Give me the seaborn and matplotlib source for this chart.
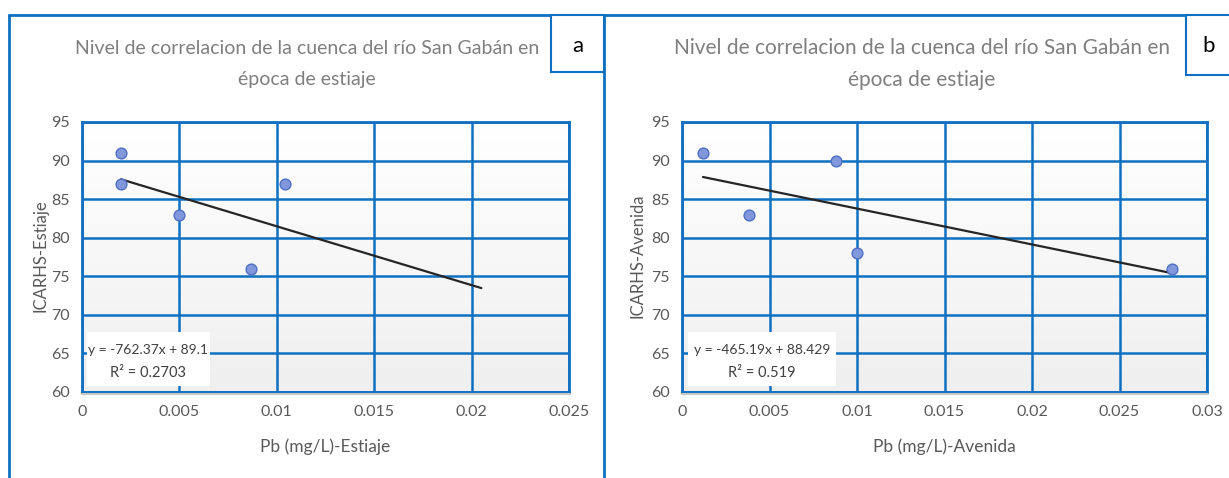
import matplotlib
matplotlib.use("Agg")
import matplotlib.pyplot as plt
import seaborn as sns
import numpy as np
import pandas as pd
from matplotlib.lines import Line2D
from matplotlib.patches import Rectangle

# values
pb_estiaje = [0.002, 0.002, 0.005, 0.0087, 0.0104]
icarhs_estiaje = [91, 87, 83, 76, 87]
pb_avenida = [0.0012, 0.0038, 0.0088, 0.010, 0.028]
icarhs_avenida = [91, 83, 90, 78, 76]

# trend lines as printed in the charts
trend_a = (-762.37, 89.1, 0.2703, 0.0205)   # slope, intercept, r2, forecast end
trend_b = (-465.19, 88.429, 0.519, 0.028)

y_ticks = [60, 65, 70, 75, 80, 85, 90, 95]
x_ticks_a = [0, 0.005, 0.01, 0.015, 0.02, 0.025]
x_ticks_b = [0, 0.005, 0.01, 0.015, 0.02, 0.025, 0.03]

W, H = 1229, 478
BLUE = "#0E70C0"
GREY_TXT = "#595959"
FONT = ["Lato", "DejaVu Sans"]

sns.set_theme(style="white")
plt.rcParams["font.family"] = FONT

fig = plt.figure(figsize=(W / 100, H / 100), dpi=100)


def px(x, y):
    return x / W, 1 - y / H


def add_panel(x0, x1, xs, ys, trend, xticks, title_cx, ylab, xlab, ylab_x, xlab_cx,
              eq_box, letter_box, title_fs):
    y0, y1 = 122, 392
    ax = fig.add_axes([x0 / W, 1 - y1 / H, (x1 - x0) / W, (y1 - y0) / H])
    # white-to-grey gradient background
    grad = np.linspace(1.0, 0.0, 100).reshape(-1, 1)
    ax.imshow(grad, cmap=plt.cm.colors.LinearSegmentedColormap.from_list("g", ["#efefef", "#ffffff"]),
              extent=[xticks[0], xticks[-1], 60, 95], aspect="auto", zorder=0, origin="upper")
    df = pd.DataFrame({"x": xs, "y": ys})
    slope, inter, r2, x_end = trend
    tx = [min(xs), x_end]
    tl = pd.DataFrame({"x": tx, "y": [slope * v + inter for v in tx]})
    sns.lineplot(data=tl, x="x", y="y", ax=ax, color="#262626", lw=1.6, zorder=4)
    sns.scatterplot(data=df, x="x", y="y", ax=ax, s=60, color="#8197DB",
                    edgecolor="#4F6FC4", linewidth=1.0, zorder=5)
    ax.set_xlim(xticks[0], xticks[-1])
    ax.set_ylim(60, 95)
    ax.set_xticks(xticks)
    ax.set_xticklabels(["0" if v == 0 else f"{v:g}" for v in xticks])
    ax.set_yticks(y_ticks)
    ax.grid(True, color=BLUE, lw=1.8, zorder=1)
    ax.set_axisbelow(True)
    for s in ax.spines.values():
        s.set_color(BLUE)
        s.set_linewidth(2)
        s.set_zorder(3)
    ax.tick_params(length=0, labelsize=11.5, labelcolor=GREY_TXT, pad=9)
    ax.set_xlabel("")
    ax.set_ylabel("")
    # shadow under the plot area
    fig.add_artist(Line2D([x0 / W, (x1 + 1) / W], [1 - (y1 + 2) / H] * 2, color="#c8c8c8", lw=1.5))

    fig.text(*px(title_cx, 48), "Nivel de correlacion de la cuenca del río San Gabán en",
             ha="center", va="center", fontsize=title_fs, color="#7f7f7f")
    fig.text(*px(title_cx, 80), "época de estiaje", ha="center", va="center",
             fontsize=title_fs, color="#7f7f7f")
    fig.text(*px(ylab_x, 256), ylab, rotation=90, ha="center", va="center",
             fontsize=12, color=GREY_TXT)
    fig.text(*px(xlab_cx, 447), xlab, ha="center", va="center",
             fontsize=12.5, color=GREY_TXT)

    bx0, bx1 = eq_box
    fig.add_artist(Rectangle(px(bx0, 386), (bx1 - bx0) / W, 54 / H, facecolor="white",
                             edgecolor="none", zorder=6))
    fig.text(*px((bx0 + bx1) / 2, 350), f"y = {slope}x + {inter}", ha="center", va="center",
             fontsize=10, color="#404040", zorder=7)
    fig.text(*px((bx0 + bx1) / 2, 373), f"R² = {r2}", ha="center", va="center",
             fontsize=10.5, color="#404040", zorder=7)

    lx0, lx1, ly1, letter = letter_box
    fig.add_artist(Rectangle(px(lx0, ly1), (lx1 - lx0) / W, (ly1 - 15) / H, facecolor="white",
                             edgecolor=BLUE, lw=1.5, zorder=6))
    fig.text(*px((lx0 + lx1) / 2, 46), letter, ha="center", va="center",
             fontsize=16, color="black", zorder=7)
    return ax


add_panel(82, 569, pb_estiaje, icarhs_estiaje, trend_a, x_ticks_a, 307,
          "ICARHS-Estiaje", "Pb (mg/L)-Estiaje", 40, 325, (87, 210), (551, 604, 72, "a"), 14)
add_panel(682, 1207, pb_avenida, icarhs_avenida, trend_b, x_ticks_b, 922,
          "ICARHS-Avenida", "Pb (mg/L)-Avenida", 638, 944, (688, 836), (1186, 1232, 75, "b"), 15)

# outer frames
fig.add_artist(Line2D([9 / W, 1], [1 - 15 / H] * 2, color=BLUE, lw=2))
fig.add_artist(Line2D([9 / W] * 2, [0, 1 - 15 / H], color=BLUE, lw=2))
fig.add_artist(Line2D([604 / W] * 2, [0, 1 - 15 / H], color=BLUE, lw=2))

fig.savefig("out.png", dpi=100)
